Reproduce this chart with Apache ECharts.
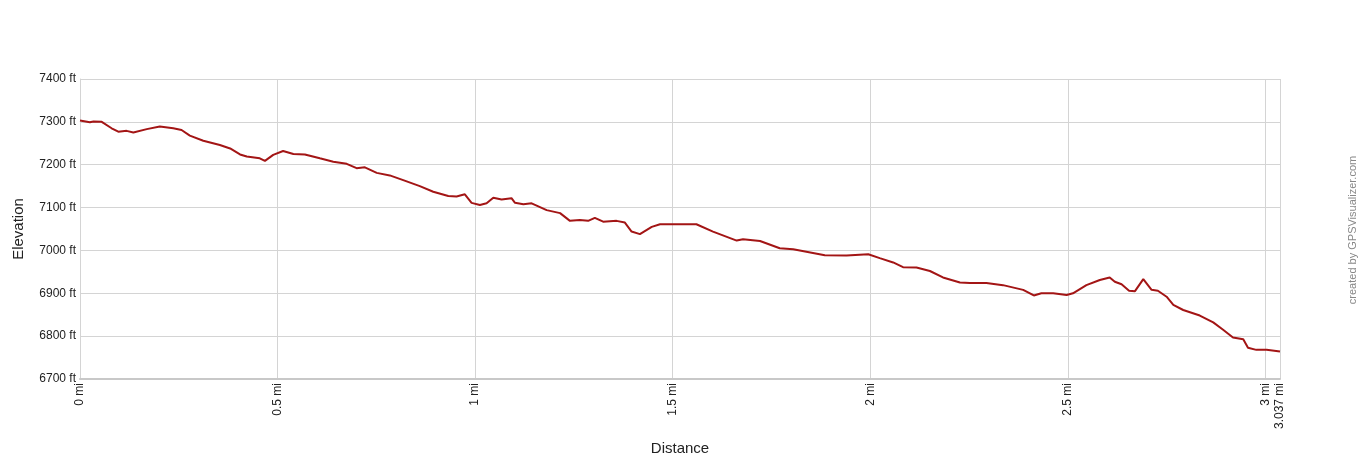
<!DOCTYPE html>
<html><head><meta charset="utf-8">
<script src="https://cdn.jsdelivr.net/npm/echarts@6/dist/echarts.min.js"></script>
<style>html,body{margin:0;padding:0;background:#fff}#c{width:1360px;height:460px}</style>
</head><body><div id="c"></div>
<script>
const distances = [0.000,0.025,0.034,0.055,0.080,0.097,0.118,0.135,0.169,0.202,0.236,0.257,0.278,0.312,0.354,0.380,0.405,0.422,0.455,0.468,0.489,0.514,0.540,0.569,0.607,0.641,0.675,0.700,0.721,0.751,0.784,0.818,0.860,0.894,0.932,0.953,0.974,0.991,1.012,1.029,1.046,1.067,1.092,1.101,1.122,1.143,1.181,1.215,1.240,1.265,1.286,1.303,1.324,1.358,1.379,1.396,1.417,1.447,1.468,1.560,1.602,1.662,1.678,1.721,1.771,1.805,1.885,1.940,1.995,2.024,2.058,2.083,2.117,2.151,2.184,2.227,2.252,2.294,2.336,2.387,2.414,2.433,2.463,2.497,2.513,2.547,2.581,2.606,2.619,2.636,2.655,2.670,2.691,2.712,2.728,2.750,2.767,2.792,2.834,2.868,2.893,2.918,2.944,2.956,2.977,3.003,3.037];
const elevations = [7303,7299,7301,7300,7285,7277,7279,7275,7283,7289,7285,7281,7268,7256,7246,7238,7224,7219,7215,7209,7223,7232,7225,7224,7215,7207,7202,7192,7194,7181,7175,7164,7150,7137,7127,7126,7131,7111,7106,7110,7123,7119,7122,7111,7108,7110,7094,7087,7069,7071,7069,7076,7067,7069,7065,7044,7038,7055,7061,7061,7044,7023,7026,7022,7005,7003,6989,6988,6991,6982,6972,6961,6960,6952,6937,6925,6924,6924,6919,6908,6895,6900,6900,6896,6900,6919,6931,6937,6927,6921,6906,6905,6933,6908,6906,6892,6873,6861,6848,6832,6815,6797,6793,6773,6768,6768,6764];
const totalDistance = 3.037;
const yTicks = [6700,6800,6900,7000,7100,7200,7300,7400];

const chart = echarts.init(document.getElementById('c'));
const font = 'Liberation Sans, Arial, sans-serif';
chart.setOption({
  animation: false,
  grid: {left: 80, right: 80, top: 79, bottom: 81, containLabel: false, outerBoundsMode: 'none'},
  xAxis: {
    type: 'value', min: 0, max: totalDistance, interval: 0.5,
    name: 'Distance', nameLocation: 'middle', nameGap: 62,
    nameTextStyle: {fontFamily: font, fontSize: 15, color: '#222'},
    axisLine: {show: true, lineStyle: {color: '#c8c8c8', width: 2}},
    axisTick: {show: false},
    splitLine: {show: true, lineStyle: {color: '#d4d4d4', width: 1}},
    axisLabel: {rotate: 90, fontFamily: font, fontSize: 12, color: '#222', margin: 4,
      showMaxLabel: true,
      formatter: v => (Math.abs(v - totalDistance) < 1e-6 ? '3.037' : String(v)) + ' mi'}
  },
  yAxis: {
    type: 'value', min: yTicks[0], max: yTicks[yTicks.length-1], interval: 100,
    name: 'Elevation', nameLocation: 'middle', nameGap: 54,
    nameTextStyle: {fontFamily: font, fontSize: 15, color: '#222'},
    axisLine: {show: true, lineStyle: {color: '#d4d4d4'}},
    axisTick: {show: false},
    splitLine: {show: true, lineStyle: {color: '#d4d4d4', width: 1}},
    axisLabel: {fontFamily: font, fontSize: 12, color: '#222', margin: 4, formatter: v => v + ' ft'}
  },
  graphic: [{
    type: 'text', left: 1347, top: 'middle', rotation: Math.PI/2,
    style: {text: 'created by GPSVisualizer.com', fontFamily: font, fontSize: 11, fill: '#888'}
  }],
  series: [{
    type: 'line', showSymbol: false, smooth: false,
    data: distances.map((d, i) => [d, elevations[i]]),
    lineStyle: {color: '#a31515', width: 2},
    itemStyle: {color: '#a31515'}
  }]
});
</script></body></html>
